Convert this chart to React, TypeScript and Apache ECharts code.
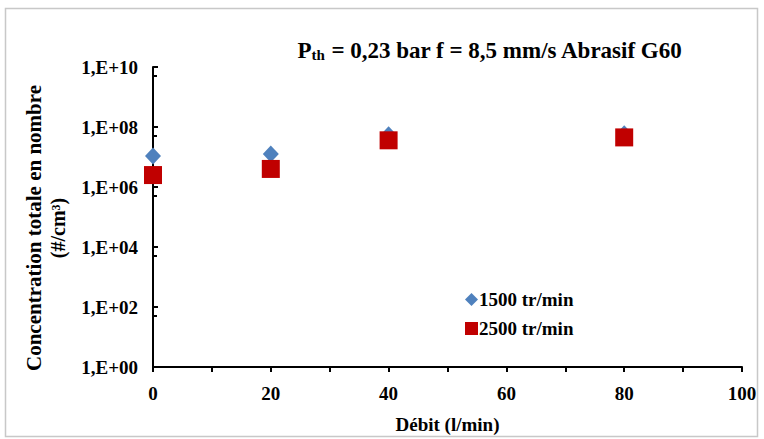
import React, { useEffect, useRef } from "react";
import * as echarts from "echarts";

const xTicks = [0, 20, 40, 60, 80, 100];
const s1500Name = "1500 tr/min";
const s2500Name = "2500 tr/min";
const debit1500 = [0, 20, 40, 80];
const conc1500 = [1.07e7, 1.25e7, 5.5e7, 6.0e7];
const debit2500 = [0, 20, 40, 80];
const conc2500 = [2.5e6, 4.0e6, 3.6e7, 4.5e7];

const FONT = "'Liberation Serif', 'Times New Roman', serif";

export default function App() {
  const ref = useRef<HTMLDivElement>(null);
  useEffect(() => {
    if (!ref.current) return;
    const chart = echarts.init(ref.current, null, { renderer: "svg" });
    const d1 = debit1500.map((x, i) => [x, conc1500[i]]);
    const d2 = debit2500.map((x, i) => [x, conc2500[i]]);
    chart.setOption({
      animation: false,
      backgroundColor: "#fff",
      textStyle: { fontFamily: FONT },
      title: {
        text: "{p|P}{sub|th}{p| = 0,23 bar f = 8,5 mm/s Abrasif G60}",
        left: 485,
        top: 29,
        textAlign: "center",
        textStyle: {
          rich: {
            p: { fontFamily: FONT, fontWeight: "bold", fontSize: 23, color: "#000", lineHeight: 28, verticalAlign: "bottom" },
            sub: { fontFamily: FONT, fontWeight: "bold", fontSize: 15, color: "#000", lineHeight: 20, verticalAlign: "bottom", padding: [9, 0, 0, 0] },
          },
        },
      },
      legend: {
        orient: "vertical",
        left: 460,
        top: 285,
        itemGap: 10,
        itemWidth: 13,
        itemHeight: 13,
        data: [
          { name: s1500Name, icon: "diamond", itemStyle: { color: "#4F81BD" } },
          { name: s2500Name, icon: "rect", itemStyle: { color: "#C00000" } },
        ],
        textStyle: { fontFamily: FONT, fontWeight: "bold", fontSize: 19, color: "#000", padding: [0, 0, 0, -4] },
      },
      grid: { left: 153, right: 22, top: 67, bottom: 69, containLabel: false },
      xAxis: {
        type: "value",
        min: 0,
        max: 100,
        interval: 20,
        axisLine: { show: true, lineStyle: { color: "#000", width: 2 } },
        axisTick: { show: true, length: 5, lineStyle: { color: "#000", width: 2 } },
        minorTick: { show: true, splitNumber: 2, length: 5, lineStyle: { color: "#000", width: 2 } },
        splitLine: { show: false },
        axisLabel: {
          fontFamily: FONT,
          fontWeight: "bold",
          fontSize: 19,
          color: "#000",
          margin: 17,
          formatter: (v: number) => (xTicks.includes(v) ? String(v) : ""),
        },
        name: "Débit (l/min)",
        nameLocation: "middle",
        nameGap: 48,
        nameTextStyle: { fontFamily: FONT, fontWeight: "bold", fontSize: 19, color: "#000" },
      },
      yAxis: {
        type: "log",
        logBase: 10,
        min: 1,
        max: 1e10,
        interval: 2,
        axisLine: { show: true, onZero: false, lineStyle: { color: "#000", width: 2 } },
        axisTick: { show: true, inside: true, length: 5, lineStyle: { color: "#000", width: 2 } },
        minorTick: { show: true, splitNumber: 2, length: 4, lineStyle: { color: "#000", width: 2 } },
        splitLine: { show: false },
        axisLabel: {
          fontFamily: FONT,
          fontWeight: "bold",
          fontSize: 19,
          color: "#000",
          margin: 15,
          formatter: (v: number) => {
            const e = Math.round(Math.log10(v));
            return "1,E+" + (e < 10 ? "0" + e : String(e));
          },
        },
      },
      graphic: [
        {
          type: "rect",
          shape: { x: 5.5, y: 8.5, width: 752, height: 428 },
          style: { fill: "none", stroke: "#c8c8c8", lineWidth: 1.5 },
          silent: true,
        },
        {
          type: "text",
          x: 34,
          y: 228,
          rotation: Math.PI / 2,
          style: {
            text: "Concentration totale en nombre",
            font: `bold 21px ${FONT}`,
            fill: "#000",
            align: "center",
            verticalAlign: "middle",
          },
        },
        {
          type: "text",
          x: 58,
          y: 228,
          rotation: Math.PI / 2,
          style: {
            text: "(#/cm³)",
            font: `bold 20px ${FONT}`,
            fill: "#000",
            align: "center",
            verticalAlign: "middle",
          },
        },
      ],
      series: [
        {
          name: s1500Name,
          type: "scatter",
          symbol: "diamond",
          symbolSize: [16, 17],
          itemStyle: { color: "#4F81BD", opacity: 1 },
          data: d1,
          z: 2,
        },
        {
          name: s2500Name,
          type: "scatter",
          symbol: "rect",
          symbolSize: [18, 18],
          itemStyle: { color: "#C00000", opacity: 1 },
          data: d2,
          z: 3,
        },
      ],
    });
    return () => chart.dispose();
  }, []);
  return <div ref={ref} style={{ position: "fixed", left: 0, top: 0, width: 764, height: 439 }} />;
}
